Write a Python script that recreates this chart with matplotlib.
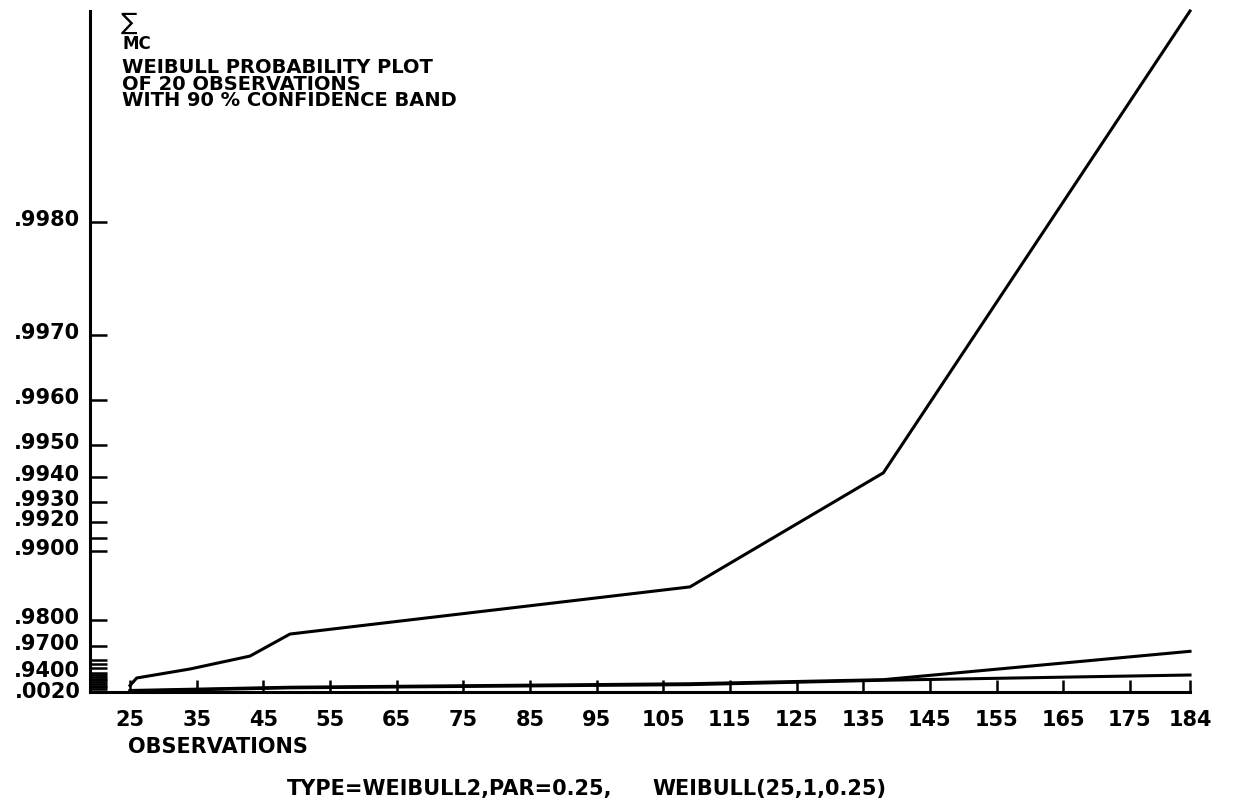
import numpy as np
import matplotlib
matplotlib.use('Agg')
import matplotlib.pyplot as plt
from matplotlib.ticker import NullLocator
from matplotlib.transforms import ScaledTranslation

# observation points of the fitted line and the two band limits
obs_x = [25, 26, 34, 43, 49, 109, 138, 184]
upper_p = [0.0100, 0.586, 0.948, 0.9664, 0.9746, 0.9848, 0.99413, 0.9990]

band_x = [25, 49, 109, 138, 184]
middle_p = [0.0015, 0.005, 0.05, 0.30, 0.9681]
lower_p = [0.0013, 0.004, 0.03, 0.20, 0.90]

# probability axis ticks (blank label = unlabelled tick)
y_ticks = [0.0020, 0.0050, 0.0100, 0.0500, 0.1000, 0.2000, 0.5000, 0.8000,
           0.9000, 0.9400, 0.9500, 0.9600, 0.9650, 0.9700, 0.9800, 0.9900,
           0.9910, 0.9920, 0.9930, 0.9940, 0.9950, 0.9960, 0.9970, 0.9980]
y_labels = ['.0020', '', '', '', '', '', '', '',
            '', '.9400', '', '', '', '.9700', '.9800', '.9900',
            '', '.9920', '.9930', '.9940', '.9950', '.9960', '.9970', '.9980']

x_ticks = [25, 35, 45, 55, 65, 75, 85, 95, 105, 115, 125, 135, 145, 155, 165, 175, 184]

# paper scale of the probability axis (probability -> height)
scale_p = np.array([0.0010, 0.0020, 0.0050, 0.0100, 0.0500, 0.1000, 0.2000, 0.5000,
                    0.8000, 0.9000, 0.9400, 0.9500, 0.9600, 0.9650, 0.9700, 0.9800,
                    0.9900, 0.9910, 0.9920, 0.9930, 0.9940, 0.9950, 0.9960, 0.9970,
                    0.9980, 0.9990])
scale_h = np.array([0, 3, 4.75, 6.5, 8.25, 10, 11.75, 13.5, 15.25, 17, 19, 24, 28, 32,
                    46, 72, 141, 154, 170, 190, 215, 247, 292, 357, 470, 681])


def fwd(p):
    return np.interp(p, scale_p, scale_h)


def inv(h):
    return np.interp(h, scale_h, scale_p)


plt.rcParams['font.family'] = 'DejaVu Sans'
plt.rcParams['font.weight'] = 'bold'

W, H = 1234, 803
fig = plt.figure(figsize=(W / 100, H / 100), dpi=100)
ax = fig.add_axes([90 / W, 1 - 693 / H, 1100 / W, 681 / H])
ax.set_yscale('function', functions=(fwd, inv))
ax.set_ylim(0.0010, 0.9990)
ax.set_xlim(19, 184)

for side in ['top', 'right']:
    ax.spines[side].set_visible(False)
for side in ['left', 'bottom']:
    ax.spines[side].set_linewidth(2.2)

ax.set_yticks(y_ticks)
ax.set_yticklabels(y_labels)
ax.yaxis.set_minor_locator(NullLocator())
ax.set_xticks(x_ticks)
ax.set_xticklabels([str(v) for v in x_ticks])
ax.xaxis.set_minor_locator(NullLocator())

ax.tick_params(axis='y', direction='in', length=12, width=1.8, pad=7, labelsize=15)
ax.tick_params(axis='x', direction='in', length=8.5, width=1.8, pad=12, labelsize=15)

# labels sit a little above their tick, as on the plotter output
for lbl in ax.get_yticklabels():
    up = 0.0 if lbl.get_text() == '.0020' else 0.05
    lbl.set_transform(lbl.get_transform() + ScaledTranslation(0, up, fig.dpi_scale_trans))

ax.plot(obs_x, upper_p, color='black', lw=2.2, clip_on=False, solid_joinstyle='round')
ax.plot(band_x, middle_p, color='black', lw=2.2, clip_on=False)
ax.plot(band_x, lower_p, color='black', lw=2.2, clip_on=False)

fig.text(120 / W, 1 - 11 / H, r'$\sum$', fontsize=12.5, fontweight='normal', va='top', ha='left')
fig.text(122 / W, 1 - 35 / H, 'MC', fontsize=12, va='top', ha='left')
title_lines = ['WEIBULL PROBABILITY PLOT', 'OF 20 OBSERVATIONS', 'WITH 90 % CONFIDENCE BAND']
fig.text(122 / W, 1 - 58 / H, '\n'.join(title_lines), fontsize=14, va='top', ha='left',
         linespacing=0.84)

fig.text(128 / W, 1 - 747 / H, 'OBSERVATIONS', fontsize=15, va='center', ha='left')
fig.text(287 / W, 1 - 789 / H, 'TYPE=WEIBULL2,PAR=0.25,', fontsize=15, va='center', ha='left')
fig.text(652 / W, 1 - 789 / H, 'WEIBULL(25,1,0.25)', fontsize=15, va='center', ha='left')

fig.savefig('out.png', dpi=100)
